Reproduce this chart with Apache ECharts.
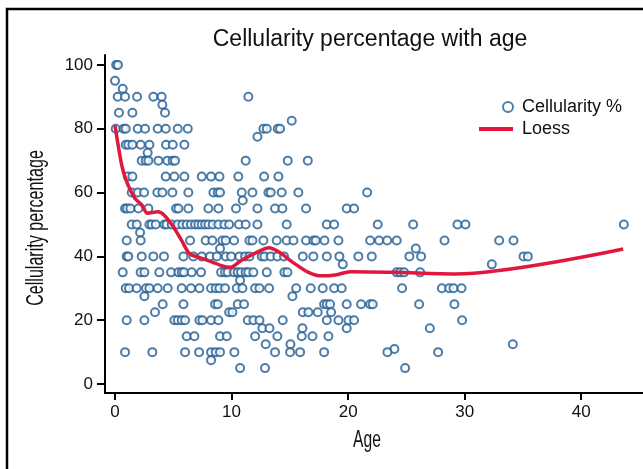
<!DOCTYPE html>
<html>
<head>
<meta charset="utf-8">
<script src="https://cdn.jsdelivr.net/npm/echarts@6/dist/echarts.min.js"></script>
<style>
  html, body { margin: 0; padding: 0; background: #fff; }
  #chart { width: 643px; height: 469px; }
</style>
</head>
<body>
<div id="chart"></div>
<script>
// cellularity levels (%) and the ages observed at each level
const cellLevels = [100, 95, 92.5, 90, 87.5, 85, 82.5, 80, 77.5, 75, 72.5, 70, 65, 60, 57.5, 55, 50, 47.5, 45, 42.5,
  40, 37.5, 35, 32.5, 30, 27.5, 25, 22.5, 20, 17.5, 15, 12.5, 11, 10, 7.5, 5];
const agesByLevel = [
  [0.1, 0.25],
  [0.0],
  [0.66],
  [0.23, 0.86, 1.89, 3.29, 4.0, 11.44],
  [4.06],
  [0.34, 1.49, 4.29],
  [15.16],
  [0.06, 0.74, 0.92, 1.95, 2.58, 3.66, 4.35, 5.38, 6.24, 12.73, 13.02, 13.96, 14.16],
  [12.22],
  [0.92, 1.14, 1.49, 2.2, 2.95, 4.38, 4.95, 5.95],
  [2.8],
  [2.29, 2.63, 2.86, 3.72, 4.49, 4.95, 5.15, 11.21, 14.82, 16.54],
  [1.09, 1.49, 4.35, 5.09, 5.95, 7.44, 8.24, 8.96, 10.58, 12.79, 14.02],
  [1.43, 1.95, 2.49, 3.63, 4.06, 4.92, 6.29, 8.44, 8.81, 9.01, 10.87, 11.79, 13.16, 13.36, 14.3, 15.73, 21.63],
  [10.96],
  [0.86, 1.03, 1.32, 2.0, 2.86, 5.24, 5.44, 6.29, 8.01, 8.87, 10.38, 12.22, 13.73, 14.36, 16.39, 19.88, 20.51],
  [1.43, 1.86, 2.95, 3.15, 3.49, 4.23, 4.43, 4.86, 5.38, 5.78, 6.15, 6.52, 6.87, 7.15, 7.44, 7.73, 8.01, 8.38, 8.87,
    9.38, 9.79, 10.64, 11.21, 12.22, 14.73, 18.17, 18.8, 22.54, 25.58, 29.38, 30.07, 43.66],
  [2.15],
  [1.0, 2.2, 6.44, 7.78, 8.35, 9.21, 9.5, 10.21, 11.53, 11.79, 12.73, 13.87, 14.73, 15.31, 16.39, 17.02, 17.22, 17.97,
    19.17, 21.89, 22.66, 23.35, 24.17, 28.27, 32.96, 34.19],
  [9.01, 25.81],
  [1.0, 1.14, 2.29, 3.29, 4.2, 5.87, 6.72, 7.44, 8.15, 8.73, 9.5, 9.96, 10.67, 11.16, 11.53, 12.59, 12.82, 13.36, 13.93,
    14.5, 16.11, 17.02, 18.17, 19.25, 20.88, 22.03, 25.26, 26.26, 35.05, 35.42],
  [19.54, 32.33],
  [0.66, 2.2, 2.52, 3.8, 4.81, 5.44, 5.72, 5.92, 6.58, 7.38, 9.1, 9.44, 9.67, 10.21, 10.53, 10.81, 11.21, 11.44, 11.87,
    13.02, 14.53, 14.79, 24.17, 24.46, 24.8, 26.18],
  [10.73],
  [0.92, 1.2, 1.86, 2.66, 2.95, 3.66, 4.52, 5.72, 6.52, 7.24, 8.24, 8.64, 8.96, 9.44, 10.44, 10.93, 12.02, 12.39, 13.22,
    15.54, 16.79, 17.82, 18.8, 19.45, 24.63, 28.04, 28.67, 29.04, 29.73],
  [2.52, 15.22],
  [4.09, 5.87, 8.58, 8.81, 10.53, 11.07, 17.94, 18.17, 18.45, 19.88, 21.11, 21.89, 22.11, 26.09, 29.12],
  [3.43, 9.79, 10.07, 16.11, 16.59, 17.39, 18.54],
  [1.0, 2.52, 5.09, 5.38, 5.72, 6.01, 7.24, 7.5, 8.24, 8.87, 11.39, 11.87, 12.39, 14.39, 18.17, 19.17, 20.03, 20.51, 29.78],
  [12.64, 13.25, 16.08, 19.88, 27.01],
  [6.15, 6.81, 9.01, 9.59, 12.02, 13.93, 16.02, 16.94, 18.31],
  [12.93, 15.05, 34.13],
  [23.97],
  [0.86, 3.2, 6.01, 7.21, 8.24, 8.64, 9.01, 10.24, 13.73, 15.02, 15.88, 17.94, 23.37, 27.72],
  [8.24],
  [10.73, 12.87, 24.89]
];

// loess fit
const loessAge = [0, 0.57, 1.0, 1.7, 2.3, 2.8, 3.7, 4.2, 4.9, 5.7, 6.4, 7.2, 8.3, 9.2, 9.9, 10.9, 12.3, 13.2, 14.0,
  15.2, 16.6, 17.7, 18.9, 20.2, 24.0, 29.2, 43.6];
const loessValue = [81, 68.7, 63.4, 58.2, 56.1, 53.5, 54, 53, 49.8, 45.1, 40.8, 39.7, 38.3, 37, 36.6, 38.9, 41.5, 42.7,
  41.5, 38.3, 35, 33.9, 34.2, 35.2, 35, 34.5, 42.3];

const xTicks = [0, 10, 20, 30, 40];
const yTicks = [0, 20, 40, 60, 80, 100];

const scatterData = [];
cellLevels.forEach((lvl, i) => {
  agesByLevel[i].forEach(a => scatterData.push([a, lvl]));
});
const loessData = loessAge.map((a, i) => [a, loessValue[i]]);

const chart = echarts.init(document.getElementById('chart'));

const labelFont = { color: '#111', fontSize: 17, fontFamily: 'Liberation Sans, Arial, sans-serif' };
const legendFont = { color: '#111', fontSize: 18, fontFamily: 'Liberation Sans, Arial, sans-serif', padding: [0, 0, 0, 4] };
// axis titles use a squeezed face, so they are drawn as scaled text
const axisTitleStyle = { fill: '#111', font: '23px "Liberation Sans", Arial, sans-serif', textAlign: 'center', textVerticalAlign: 'middle' };

const option = {
  animation: false,
  backgroundColor: '#fff',
  title: {
    text: 'Cellularity percentage with age',
    left: 365,
    top: 23,
    textAlign: 'center',
    textStyle: { color: '#111', fontSize: 23, fontWeight: 'normal', fontFamily: 'Liberation Sans, Arial, sans-serif' }
  },
  legend: [
    {
      data: [{ name: 'Cellularity %', icon: 'emptyCircle' }],
      left: 502,
      top: 98,
      padding: 0,
      itemWidth: 10,
      itemHeight: 10,
      textStyle: legendFont
    },
    {
      data: [{ name: 'Loess', icon: 'rect' }],
      left: 479,
      top: 120,
      padding: 0,
      itemWidth: 34,
      itemHeight: 4,
      textStyle: legendFont
    }
  ],
  graphic: [
    {
      type: 'rect',
      shape: { x: 7, y: 9, width: 700, height: 500 },
      style: { fill: 'none', stroke: '#000', lineWidth: 2.5 },
      silent: true
    },
    {
      type: 'text',
      x: 367, y: 441,
      scaleX: 0.68,
      style: Object.assign({ text: 'Age' }, axisTitleStyle),
      silent: true
    },
    {
      type: 'text',
      x: 37, y: 228,
      rotation: Math.PI / 2,
      scaleX: 0.7,
      style: Object.assign({ text: 'Cellularity percentage' }, axisTitleStyle),
      silent: true
    }
  ],
  grid: { left: 105, top: 55, right: 0, bottom: 76 },
  xAxis: {
    type: 'value',
    min: -0.86,
    max: 45.3,
    axisLine: { onZero: false, lineStyle: { color: '#000', width: 2 } },
    axisTick: { customValues: xTicks, length: 7, lineStyle: { color: '#000', width: 2 } },
    axisLabel: Object.assign({ customValues: xTicks, margin: 11 }, labelFont),
    splitLine: { show: false }
  },
  yAxis: {
    type: 'value',
    min: -2.8,
    max: 103.1,
    axisLine: { onZero: false, lineStyle: { color: '#000', width: 2 } },
    axisTick: { customValues: yTicks, length: 8, lineStyle: { color: '#000', width: 2 } },
    axisLabel: Object.assign({ customValues: yTicks, margin: 12 }, labelFont),
    splitLine: { show: false }
  },
  series: [
    {
      name: 'Cellularity %',
      type: 'scatter',
      symbol: 'emptyCircle',
      symbolSize: 8,
      itemStyle: { color: '#1f5d93', borderColor: '#1f5d93', borderWidth: 1.6 },
      data: scatterData
    },
    {
      name: 'Loess',
      type: 'line',
      smooth: 0.3,
      showSymbol: false,
      symbol: 'none',
      z: 3,
      lineStyle: { color: '#e2173c', width: 3.5 },
      itemStyle: { color: '#e2173c' },
      data: loessData
    }
  ]
};

chart.setOption(option);
window.addEventListener('resize', () => {
  chart.resize();
});
</script>
</body>
</html>
